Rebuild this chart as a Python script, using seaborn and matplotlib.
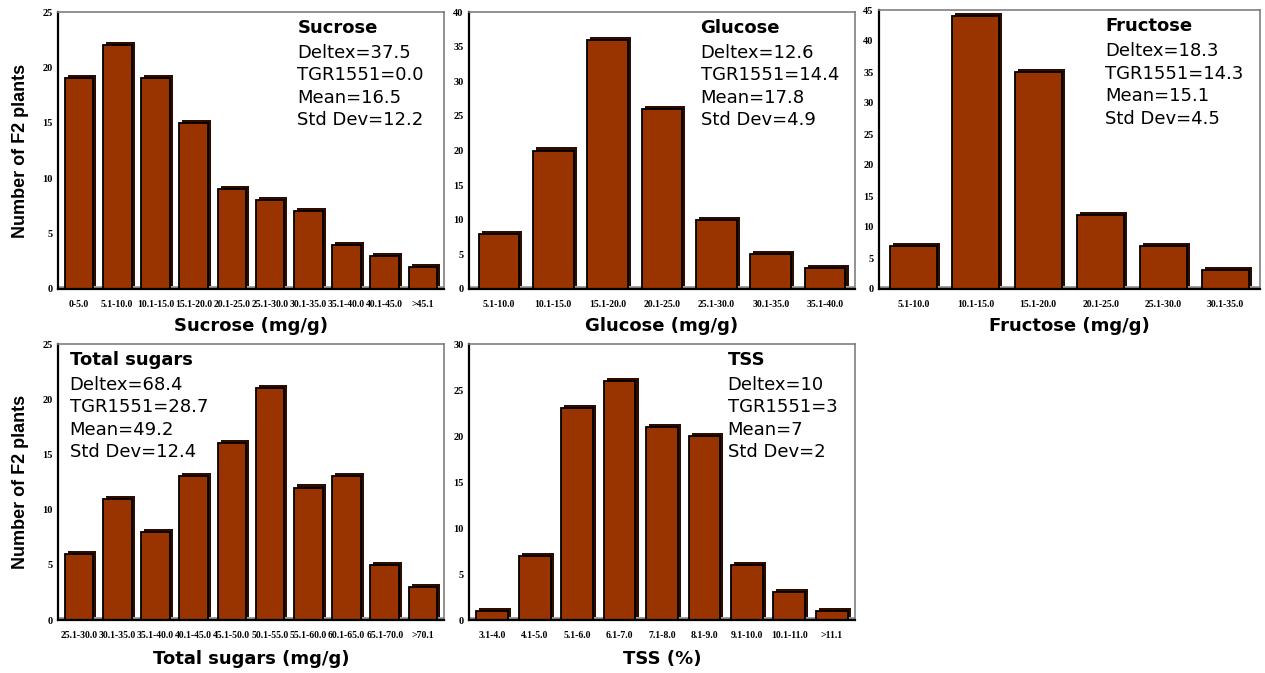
import numpy as np
import matplotlib
matplotlib.use("Agg")
import matplotlib.pyplot as plt
import matplotlib.patheffects as pe
import seaborn as sns

sucrose_bins = ["0-5.0", "5.1-10.0", "10.1-15.0", "15.1-20.0", "20.1-25.0",
                "25.1-30.0", "30.1-35.0", "35.1-40.0", "40.1-45.0", ">45.1"]
sucrose_counts = [19, 22, 19, 15, 9, 8, 7, 4, 3, 2]

glucose_bins = ["5.1-10.0", "10.1-15.0", "15.1-20.0", "20.1-25.0",
                "25.1-30.0", "30.1-35.0", "35.1-40.0"]
glucose_counts = [8, 20, 36, 26, 10, 5, 3]

fructose_bins = ["5.1-10.0", "10.1-15.0", "15.1-20.0", "20.1-25.0",
                 "25.1-30.0", "30.1-35.0"]
fructose_counts = [7, 44, 35, 12, 7, 3]

total_bins = ["25.1-30.0", "30.1-35.0", "35.1-40.0", "40.1-45.0", "45.1-50.0",
              "50.1-55.0", "55.1-60.0", "60.1-65.0", "65.1-70.0", ">70.1"]
total_counts = [6, 11, 8, 13, 16, 21, 12, 13, 5, 3]

tss_bins = ["3.1-4.0", "4.1-5.0", "5.1-6.0", "6.1-7.0", "7.1-8.0",
            "8.1-9.0", "9.1-10.0", "10.1-11.0", ">11.1"]
tss_counts = [1, 7, 23, 26, 21, 20, 6, 3, 1]

panels = [
    # bins, counts, xlabel, ymax, stats text, text x, rect(px: left, top, right, bottom)
    (sucrose_bins, sucrose_counts, "Sucrose (mg/g)", 25,
     ["Sucrose", "Deltex=37.5", "TGR1551=0.0", "Mean=16.5", "Std Dev=12.2"],
     0.62, (58, 12, 444, 289)),
    (glucose_bins, glucose_counts, "Glucose (mg/g)", 40,
     ["Glucose", "Deltex=12.6", "TGR1551=14.4", "Mean=17.8", "Std Dev=4.9"],
     0.60, (469, 12, 855, 289)),
    (fructose_bins, fructose_counts, "Fructose (mg/g)", 45,
     ["Fructose", "Deltex=18.3", "TGR1551=14.3", "Mean=15.1", "Std Dev=4.5"],
     0.593, (879, 10, 1260, 289)),
    (total_bins, total_counts, "Total sugars (mg/g)", 25,
     ["Total sugars", "Deltex=68.4", "TGR1551=28.7", "Mean=49.2", "Std Dev=12.4"],
     0.03, (58, 344, 444, 620)),
    (tss_bins, tss_counts, "TSS (%)", 30,
     ["TSS", "Deltex=10", "TGR1551=3", "Mean=7", "Std Dev=2"],
     0.67, (469, 344, 855, 620)),
]

sns.set_style("white")
plt.rcParams['font.family'] = ['DejaVu Sans']
plt.rcParams['text.color'] = 'black'
plt.rcParams['axes.labelcolor'] = 'black'
plt.rcParams['xtick.color'] = 'black'
plt.rcParams['ytick.color'] = 'black'

W, H = 1265, 673
fig = plt.figure(figsize=(W / 100, H / 100), dpi=100)

bar_color = "#993300"
shadow = [pe.SimplePatchShadow(offset=(2.2, 2.2), shadow_rgbFace="#2e0c00", alpha=1.0),
          pe.Normal()]

for i, (bins, counts, xlabel, ymax, stats, tx, rect) in enumerate(panels):
    l, t, r, b = rect
    ax = fig.add_axes([l / W, 1 - b / H, (r - l) / W, (b - t) / H])
    sns.barplot(x=bins, y=counts, color=bar_color, width=0.75, saturation=1,
                edgecolor="black", linewidth=1.3, ax=ax)
    for p in ax.patches:
        p.set_path_effects(shadow)

    n = len(bins)
    ax.set_xlim(-0.55, n - 0.45)
    ax.set_ylim(0, ymax)
    ax.set_yticks(np.arange(0, ymax + 1, 5))
    ax.axhline(0, color="#8c8c8c", lw=4, zorder=0.5)

    # ticks at category boundaries, labels centred
    ax.set_xticks(np.arange(-0.5, n, 1.0), minor=True)
    ax.tick_params(axis="x", which="minor", length=4, width=1, color="black",
                   direction="out")
    ax.tick_params(axis="x", which="major", length=0, pad=8)
    ax.tick_params(axis="y", length=3, width=1, pad=1, direction="out")
    for lab in ax.get_xticklabels():
        lab.set_fontfamily("Liberation Serif")
        lab.set_fontweight("bold")
        lab.set_fontsize(7)
    for lab in ax.get_yticklabels():
        lab.set_fontfamily("Liberation Serif")
        lab.set_fontweight("bold")
        lab.set_fontsize(7.5)

    for side in ["top", "right"]:
        ax.spines[side].set_color("#7f7f7f")
        ax.spines[side].set_linewidth(1.2)
    for side in ["left", "bottom"]:
        ax.spines[side].set_color("black")
        ax.spines[side].set_linewidth(1.6)

    ax.set_xlabel(xlabel, fontsize=13, fontweight="bold")
    ax.xaxis.set_label_coords(0.5, -0.10 if i < 3 else -0.11)
    if i in (0, 3):
        ax.set_ylabel("Number of F2 plants", fontsize=13, fontweight="bold",
                      fontfamily="Liberation Sans")
        ax.yaxis.set_label_coords(-0.075, 0.5)
    else:
        ax.set_ylabel("")

    ax.text(tx, 0.942, stats[0], transform=ax.transAxes, fontsize=13,
            fontweight="bold", va="center", ha="left")
    for k, line in enumerate(stats[1:]):
        ax.text(tx, 0.852 - 0.081 * k, line, transform=ax.transAxes,
                fontsize=13, va="center", ha="left")

fig.savefig("out.png", dpi=100)
